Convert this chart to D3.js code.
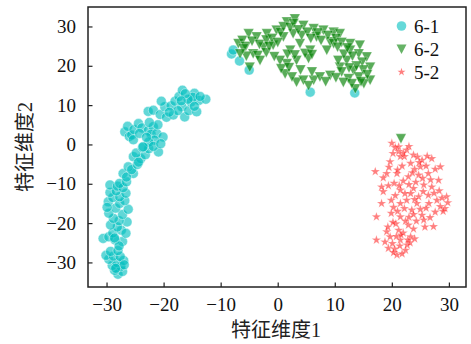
<!DOCTYPE html>
<html><head><meta charset="utf-8">
<script src="https://cdn.jsdelivr.net/npm/d3@7"></script>
<style>body{margin:0;background:#fff}svg{display:block}</style>
</head><body>
<script>
const xTicks = [-30,-20,-10,0,10,20,30];
const yTicks = [-30,-20,-10,0,10,20,30];
const seriesNames = ["6-1","6-2","5-2"];
const xLabel = "特征维度1";
const yLabel = "特征维度2";

const s61 = [
[-28,-33],[-27.2,-32.3],[-28.6,-32],[-27.5,-31],[-29,-30.8],[-28.2,-30],[-27,-29.5],[-29.6,-29.2],[-30.1,-28.2],[-28.8,-28.4],[-27.6,-28.5],[-29.3,-27.2],[-28,-27],[-26.9,-30.6],[-28.4,-31.5],
[-27.2,-24.7],[-28.5,-24.3],[-30.6,-23.9],[-29.6,-23.5],[-27.8,-25.8],
[-28.9,-22.5],[-27.4,-21.8],[-26.6,-22.6],[-28.1,-21],[-29.3,-20.5],[-26.4,-19.7],[-27.8,-19.4],[-28.8,-18.8],[-29.6,-17.5],[-27.2,-17.8],[-26.2,-16.5],[-28.4,-16.2],[-29.7,-14.6],[-27.7,-15],[-26.8,-14.3],[-28.9,-13.5],[-27.7,-13.3],[-29.4,-12.2],[-28.3,-11.8],[-26.6,-12.4],[-29.4,-10.3],[-28.1,-10.6],[-27.1,-11],[-27.7,-9.9],[-26.5,-9.5],[-29.9,-16],[-28.6,-23.8],
[-27.1,-7.4],[-25.3,-7.4],[-26.2,-5.7],[-26.5,-8.3],[-25.6,-6.4],[-24.6,-5.1],[-25.3,-3.1],[-24,-3.6],[-24.8,-2.2],[-23.2,-2.6],[-22.6,-1.1],[-23.7,-0.8],[-24.4,-4.5],
[-26.8,3.2],[-26,2],[-25.6,2.4],[-26.3,4.6],[-25.2,3.8],[-24.4,5.3],[-23.8,4.2],[-22.7,3.5],[-21.8,4.5],[-22.2,2.6],[-21.2,2.8],[-21,5],[-20.1,1.9],[-21.6,1.1],[-22.6,0.6],[-20.9,-1.9],[-21.8,-0.5],[-23.6,-0.6],[-20.5,0.2],[-25.3,1.2],[-24.2,2.8],[-23,1.8],[-22.5,5.6],
[-22.7,8.4],[-21.8,8.7],[-20.6,7.6],[-19.5,6.9],[-18.3,7.5],[-19.8,9.6],[-18.7,9.8],[-18,11],[-17.3,12.2],[-16.7,13.8],[-16.8,9.6],[-16.3,7],[-15.6,8.6],[-15.2,10.8],[-14.6,13],[-14.2,8.3],[-13.8,11.2],[-12.6,11.5],[-14.9,12],[-15.7,11.5],[-16.2,12.9],[-17.5,8.6],[-20.4,11],[-19,8.2],[-14.6,9.7],[-13.6,12.2],[-16.9,11.1],
[-8.1,23],[-7.8,24],[-6.7,21.2],[-5,18.9],[5.7,13.3],[13.5,13.1]
];

const s62 = [
[-6.9,25.7],[-5.1,28.2],[-3.7,27.4],[-1.9,28.2],[-0.2,29.1],[1.6,31.2],[3,32],[4.5,30.3],[6.3,29.5],[8,29.1],[9.8,28.6],[10.9,28.2],[12.7,25.7],[14.4,25.3],[15.6,22.3],[16.2,19.7],[16.2,16.4],
[-4.3,23.1],[-2.5,24.8],[-0.8,25.3],[1,27.4],[2.7,28.2],[3.9,25.7],[5.7,24],[2.2,24],[4.2,27.8],[6.8,27.4],[9.2,26.1],[8.6,24],[5.4,21.9],[3.3,21.4],[1.6,20.6],[0.4,21.4],[1.3,18],[3.3,15.9],[4.5,16.4],[6.3,16.4],[7.4,17.2],[9.2,17.6],[10.9,19.7],[12.1,21.4],[12.7,24],[14.2,23.1],[13.3,18.8],[12.4,16.8],[14.2,17.2],[15.1,15.5],[13.6,14.2],[10.6,21.4],[9.8,25.7],
[-6.2,26.5],[-5.6,25],[-4.5,26.3],[-3.2,25.5],[-2,26.6],[-1,27],[0.5,28.5],[1,30],[2.2,29.8],[2.8,30.8],[3.6,29.2],[5.2,28.6],[5.8,27],[7,28.4],[7.6,26.5],[8.8,27.8],[10.2,27],[11.2,26],[10.5,24.8],[11.6,23],[13.1,22.5],[14.8,21],[15,19],[13.8,20],[12.5,19.5],[11.2,18.5],[10.2,17],[8.4,16],[5.4,15],[2.5,17.2],[0.6,19.3],[-0.6,22.4],[-2,23.4],[-3.5,22.7],[-5.5,22.5],[-4.9,19.7],[-3.1,21.4],[-6,24.4],[-6.6,23.1],[1.7,23],[3,22.8],[4.8,23.2],[6,22.9],[4,19],[2,19.6],[6,18.5],[15.7,17.8],[14.6,16],[13,15.5],[11.5,15.8],[12.2,24.6],[0,26],[-1.5,25],
[21.6,1.5]
];

const s52 = [
[20,0.3],[21.2,-0.6],[22.6,-1.4],[23.8,-2.7],[25.3,-4],[27,-3.6],[28.5,-5.7],[19.7,-4.4],[21.5,-3.1],[23.3,-4.8],[25,-5.7],[17.1,-6.9],[19.1,-7.4],[20.9,-7.4],[22.9,-8.2],[24.7,-7.8],[26.4,-7.4],[28.2,-9.1],[20.4,-9.9],[18.5,-12],[21.5,-11.6],[23.8,-11.2],[25.6,-10.3],[27,-10.8],[19.9,-14.2],[22.6,-14.2],[24.7,-13.3],[26.4,-12.9],[27.9,-14.2],[29.6,-13.3],[29.3,-16.3],[28.5,-15.8],[17.3,-18.4],[19.9,-17.5],[21.5,-18.4],[23.5,-16.7],[25.3,-18],[27.3,-20.9],[25.6,-19.2],[22.9,-20.5],[21.2,-21.8],[19.1,-22.2],[17.3,-24.3],[19.7,-23.5],[21.5,-24.3],[23.3,-23.5],[19.4,-26.4],[20.9,-28.1],[22.4,-26.9],[20.1,-25.2],[22.7,-25.6],[18.2,-10.8],[24.4,-15],[21.5,-15],[23.3,-12.5],[22.2,-3.1],[20.2,-2.3],
[18.5,-8.5],[19.5,-5.8],[21.8,-5.5],[24,-6.3],[26,-5.5],[26.8,-9],[24.2,-9.6],[22,-9.3],[19.4,-10.5],[20.6,-13],[22.3,-12.5],[25.5,-12],[28.3,-11.8],[28.8,-13.6],[26.5,-15],[25,-16.5],[27.6,-17.2],[29,-17],[26.7,-18.6],[24.3,-19.5],[22.2,-16.3],[20.3,-16],[20.7,-20.2],[22,-22.5],[23.8,-21.5],[25.8,-21],[20.5,-26.6],[21.8,-27.8],[23.2,-25],[18.8,-24.8],[20.8,-23.4],[24,-24],[21.2,-1.8],[23,-0.5],[26.2,-3],[24.5,-3.2],[27.6,-6.3],[18.2,-15],[20.2,-19.8],[23,-18.5],[29.8,-14.8],
[20.6,-0.8],[22,-2.2],[24.8,-4.6],[21,-6.5],[23.6,-7.2],[25.4,-8.6],[21.3,-10.5],[23,-10.2],[27.4,-12.4],[24,-14],[26,-16.2],[21,-17],[23.8,-17.8],[22.4,-19.5],[21.6,-23],[19.3,-21],[22.8,-24.3],[21.4,-25.8],[20.3,-27.5]
];

const W = 471, H = 344;
const m = {left: 88, right: 5, top: 7, bottom: 57};
const svg = d3.select("body").append("svg").attr("width", W).attr("height", H);
const x = d3.scaleLinear().domain([-33.25, 33.0]).range([m.left, W - m.right]);
const y = d3.scaleLinear().domain([-36.25, 34.95]).range([H - m.bottom, m.top]);
const numFont = "'Liberation Serif', 'Times New Roman', serif";
const cjkFont = "'Liberation Serif', 'Noto Sans CJK SC', serif";

const tri = (s) => `M${-s/2},${-s*0.45}L${s/2},${-s*0.45}L0,${s*0.5}Z`;
const star = d3.symbol().type(d3.symbolStar).size(27);

const g = svg.append("g");
g.selectAll("circle.c61").data(s61).join("circle")
  .attr("cx", d => x(d[0])).attr("cy", d => y(d[1])).attr("r", 5)
  .attr("fill", "#00bfbf").attr("fill-opacity", 0.62)
  .attr("stroke", "#fff").attr("stroke-opacity", 0.7).attr("stroke-width", 0.6);
g.selectAll("path.c62").data(s62).join("path")
  .attr("transform", d => `translate(${x(d[0])},${y(d[1])})`).attr("d", tri(10.5))
  .attr("fill", "#008000").attr("fill-opacity", 0.65)
  .attr("stroke", "#fff").attr("stroke-opacity", 0.6).attr("stroke-width", 0.5);
g.selectAll("path.c52").data(s52).join("path")
  .attr("transform", d => `translate(${x(d[0])},${y(d[1])})`).attr("d", star())
  .attr("fill", "#ff0000").attr("fill-opacity", 0.5)
  .attr("stroke", "#fff").attr("stroke-opacity", 0.5).attr("stroke-width", 0.4);

// axes with inward ticks
const xAxis = d3.axisBottom(x).tickValues(xTicks).tickSizeInner(-4.5).tickSizeOuter(0).tickPadding(10)
  .tickFormat(d => d < 0 ? "\u2212" + Math.abs(d) : d);
const yAxis = d3.axisLeft(y).tickValues(yTicks).tickSizeInner(-4.5).tickSizeOuter(0).tickPadding(12)
  .tickFormat(d => d < 0 ? "\u2212" + Math.abs(d) : d);
const gx = svg.append("g").attr("transform", `translate(0,${H - m.bottom})`).call(xAxis);
const gy = svg.append("g").attr("transform", `translate(${m.left},0)`).call(yAxis);
[gx, gy].forEach(a => {
  a.select(".domain").remove();
  a.selectAll(".tick line").attr("stroke", "#222").attr("stroke-width", 1.2);
  a.selectAll(".tick text").attr("font-family", numFont).attr("font-size", 19).attr("fill", "#111");
});
gx.selectAll(".tick text").attr("dy", "0.75em");
svg.append("rect").attr("x", m.left).attr("y", m.top)
  .attr("width", W - m.right - m.left).attr("height", H - m.bottom - m.top)
  .attr("fill", "none").attr("stroke", "#222").attr("stroke-width", 1.5);

svg.append("text").attr("x", 276).attr("y", 337).attr("text-anchor", "middle")
  .attr("font-family", cjkFont).attr("font-size", 20).attr("fill", "#222").text(xLabel);
svg.append("text").attr("transform", "translate(32,147) rotate(-90)").attr("text-anchor", "middle")
  .attr("font-family", cjkFont).attr("font-size", 20).attr("fill", "#222").text(yLabel);

// legend
const lg = svg.append("g");
const ly = [26, 49, 72];
lg.append("circle").attr("cx", 401.5).attr("cy", ly[0]).attr("r", 4.8).attr("fill", "#00bfbf").attr("fill-opacity", 0.6);
lg.append("path").attr("transform", `translate(401.5,${ly[1]})`).attr("d", tri(10)).attr("fill", "#008000").attr("fill-opacity", 0.6);
lg.append("path").attr("transform", `translate(401.5,${ly[2]})`).attr("d", d3.symbol().type(d3.symbolStar).size(20)()).attr("fill", "#ff0000").attr("fill-opacity", 0.5);
seriesNames.forEach((n, i) => {
  lg.append("text").attr("x", 414).attr("y", ly[i]).attr("dy", "0.35em")
    .attr("font-family", numFont).attr("font-size", 19).attr("fill", "#111").text(n);
});
</script>
</body></html>
